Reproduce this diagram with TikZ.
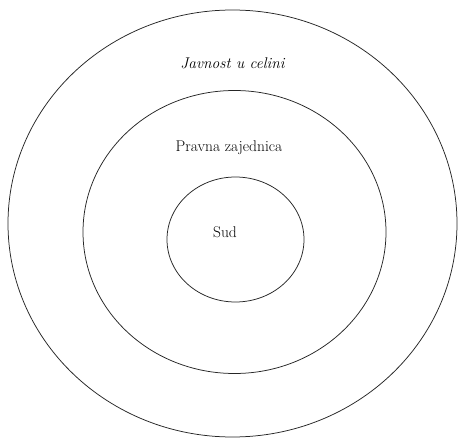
\documentclass[tikz,border=0pt]{standalone}
\usepackage{fontspec}
\begin{document}
\begin{tikzpicture}[x=1pt,y=-1pt,
  ring/.style={draw=black!85,line width=0.75pt},
  lbl/.style={font=\fontsize{15.5}{18}\selectfont,inner sep=0pt}]
\useasboundingbox (0,0) rectangle (458,438);
\fill[white] (0,0) rectangle (458,438);
\draw[ring] (232.5,223.5) ellipse [x radius=224.5, y radius=213.5];
\draw[ring] (234.5,232) ellipse [x radius=151.5, y radius=141.5];
\draw[ring] (235.5,239.5) ellipse [x radius=68.5, y radius=62.5];
\node[lbl] (javnost) at (232.5,63) {\itshape Javnost u celini};
\node[lbl] (pravna) at (229,148) {Pravna zajednica};
\node[lbl] (sud) at (225,232) {Sud};
\end{tikzpicture}
\end{document}
